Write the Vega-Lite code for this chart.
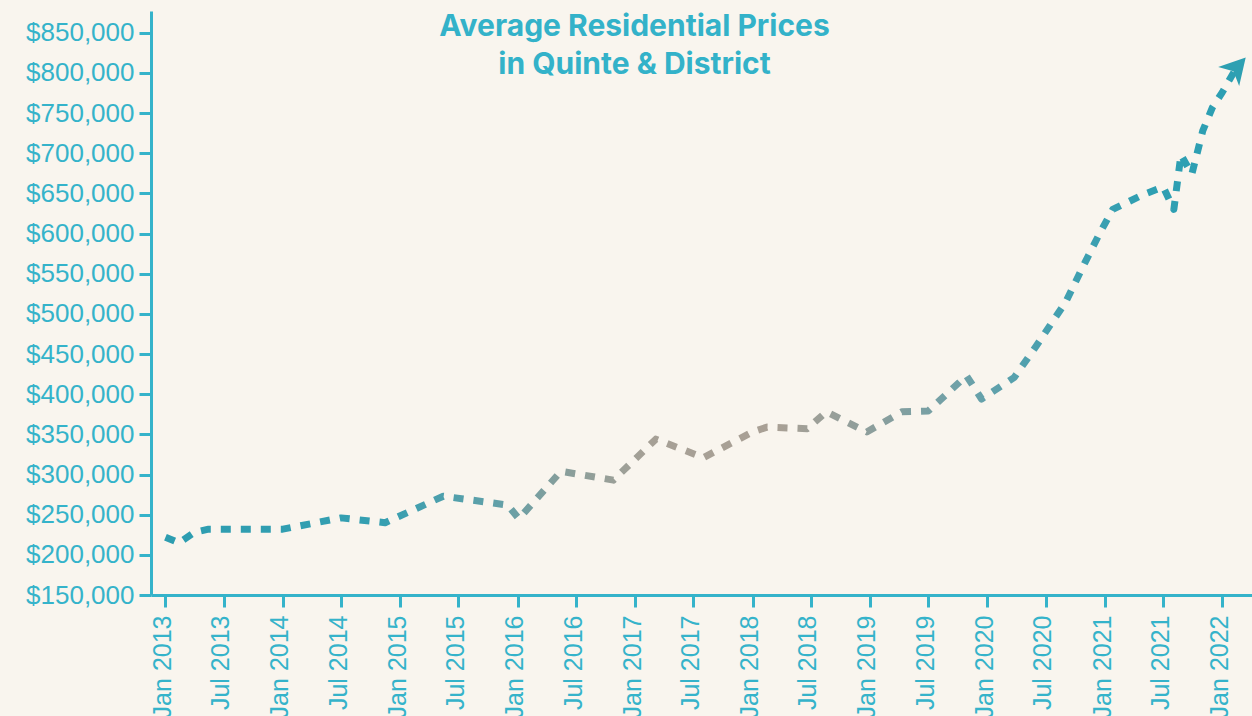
{
  "$schema": "https://vega.github.io/schema/vega-lite/v6.json",
  "width": 1101,
  "height": 584,
  "autosize": "none",
  "padding": {"left": 151, "top": 11, "right": 0, "bottom": 121},
  "background": "#f9f5ee",
  "config": {"view": {"stroke": null}, "font": "Liberation Sans"},
  "title": {
    "text": ["Average Residential Prices", "in Quinte & District"],
    "font": "Inter",
    "fontWeight": 700,
    "fontSize": 30,
    "color": "#33b2c9",
    "anchor": "middle",
    "frame": "group",
    "dx": -67,
    "dy": 69,
    "offset": 0,
    "lineHeight": 38
  },
  "datasets": {
    "prices": [
      {"date": "2013-01-01", "price": 222000},
      {"date": "2013-02-12", "price": 215000},
      {"date": "2013-04-01", "price": 228000},
      {"date": "2013-05-15", "price": 232000},
      {"date": "2014-01-01", "price": 232000},
      {"date": "2014-07-01", "price": 246000},
      {"date": "2014-11-15", "price": 240000},
      {"date": "2015-05-15", "price": 273000},
      {"date": "2015-12-01", "price": 262000},
      {"date": "2016-01-05", "price": 245000},
      {"date": "2016-05-15", "price": 304000},
      {"date": "2016-10-25", "price": 293000},
      {"date": "2017-03-06", "price": 344000},
      {"date": "2017-08-01", "price": 321000},
      {"date": "2018-01-01", "price": 353000},
      {"date": "2018-02-15", "price": 359000},
      {"date": "2018-06-20", "price": 357000},
      {"date": "2018-08-18", "price": 378000},
      {"date": "2018-12-22", "price": 353000},
      {"date": "2019-04-10", "price": 378000},
      {"date": "2019-07-01", "price": 379000},
      {"date": "2019-10-28", "price": 423000},
      {"date": "2019-12-14", "price": 394000},
      {"date": "2020-03-25", "price": 421000},
      {"date": "2020-06-01", "price": 460000},
      {"date": "2020-09-01", "price": 515000},
      {"date": "2020-11-01", "price": 565000},
      {"date": "2020-12-15", "price": 600000},
      {"date": "2021-01-25", "price": 630000},
      {"date": "2021-04-27", "price": 648000},
      {"date": "2021-07-01", "price": 658000},
      {"date": "2021-08-03", "price": 630000},
      {"date": "2021-08-25", "price": 698000},
      {"date": "2021-09-28", "price": 674000},
      {"date": "2021-11-01", "price": 728000},
      {"date": "2021-12-01", "price": 757000},
      {"date": "2022-01-01", "price": 776000},
      {"date": "2022-02-13", "price": 806000}
    ]
  },
  "data": {"name": "prices"},
  "encoding": {
    "x": {
      "field": "date",
      "type": "temporal",
      "scale": {
        "type": "utc",
        "domain": [
          {"year": 2012, "month": 11, "date": 17, "utc": true},
          {"year": 2022, "month": 4, "date": 3, "utc": true}
        ]
      },
      "axis": {
        "title": null,
        "grid": false,
        "format": "%b %Y",
        "tickCount": {"interval": "month", "step": 6},
        "labelAngle": -90,
        "labelAlign": "right",
        "labelBaseline": "middle",
        "labelFont": "Liberation Sans",
        "labelFontSize": 25,
        "labelColor": "#35b3ca",
        "labelPadding": 8,
        "labelOffset": -3,
        "labelOverlap": false,
        "domainColor": "#35b3ca",
        "domainWidth": 3,
        "tickColor": "#35b3ca",
        "tickWidth": 3,
        "tickSize": 12
      }
    },
    "y": {
      "field": "price",
      "type": "quantitative",
      "scale": {"domain": [150000, 877000], "nice": false, "zero": false},
      "axis": {
        "title": null,
        "grid": false,
        "values": [150000, 200000, 250000, 300000, 350000, 400000, 450000, 500000, 550000, 600000, 650000, 700000, 750000, 800000, 850000],
        "format": "$,.0f",
        "labelFont": "Liberation Sans",
        "labelFontSize": 26,
        "labelColor": "#35b3ca",
        "labelPadding": 5,
        "labelOverlap": false,
        "domainColor": "#35b3ca",
        "domainWidth": 3,
        "tickColor": "#35b3ca",
        "tickWidth": 3,
        "tickSize": 12
      }
    }
  },
  "layer": [
    {
      "mark": {
        "type": "line",
        "strokeWidth": 7,
        "strokeDash": [10, 10],
        "strokeJoin": "round",
        "strokeCap": "butt",
        "stroke": {
          "x1": 0, "y1": 0, "x2": 1, "y2": 0,
          "gradient": "linear",
          "stops": [
            {"offset": 0, "color": "#2d9db0"},
            {"offset": 0.2, "color": "#359fb1"},
            {"offset": 0.31, "color": "#62a0a8"},
            {"offset": 0.37, "color": "#879e9b"},
            {"offset": 0.45, "color": "#a6a096"},
            {"offset": 0.57, "color": "#a9a095"},
            {"offset": 0.66, "color": "#8c9e9c"},
            {"offset": 0.75, "color": "#6ba1a9"},
            {"offset": 0.83, "color": "#44a0b0"},
            {"offset": 0.92, "color": "#2e9fb2"},
            {"offset": 1, "color": "#2d9fb3"}
          ]
        }
      }
    },
    {
      "transform": [{"filter": "datum.price == 806000"}],
      "mark": {
        "type": "point",
        "shape": "M0,-1L1,0.8L0,0.3L-1,0.8Z",
        "filled": true,
        "size": 800,
        "angle": 42,
        "color": "#2ea0b2",
        "opacity": 1
      }
    }
  ]
}
